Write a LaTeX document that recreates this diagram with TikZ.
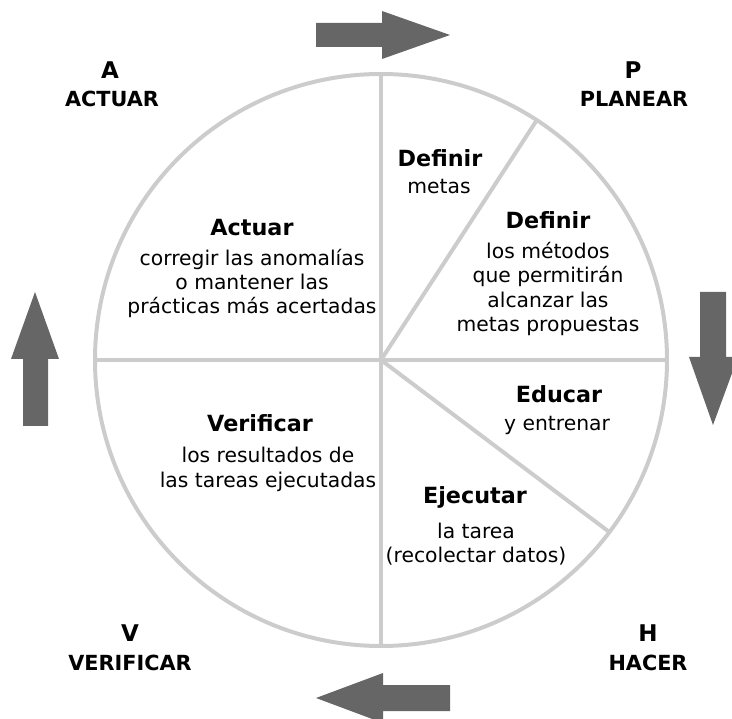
\documentclass[tikz,border=0pt]{standalone}
\usepackage{fontspec}
\setmainfont{DejaVu Sans}
\definecolor{ring}{HTML}{CCCCCC}
\definecolor{arrowgray}{HTML}{666666}
\tikzset{
  ringline/.style={draw=ring, line width=4pt},
  bigarrow/.style={fill=arrowgray, draw=none},
  title/.style={inner sep=0pt, font=\bfseries\fontsize{22.3}{26}\selectfont},
  body/.style={inner sep=0pt, align=center, font=\fontsize{20.3}{24.2}\selectfont},
  letter/.style={inner sep=0pt, font=\bfseries\fontsize{23}{27}\selectfont},
  phase/.style={inner sep=0pt, font=\bfseries\fontsize{20.8}{25}\selectfont}
}
\begin{document}
\begin{tikzpicture}[x=1pt,y=-1pt]
\path[use as bounding box] (0,0) rectangle (732,719);
% circle and dividers
\coordinate (C) at (381,360);
\coordinate (T) at (381,74);
\coordinate (B) at (381,646);
\coordinate (L) at (95,360);
\coordinate (R) at (667,360);
\coordinate (UR) at (536.8,120.1);
\coordinate (LR) at (609.4,532.1);
\draw[ringline] (C) circle[radius=286];
\draw[ringline] (T) -- (B);
\draw[ringline] (L) -- (R);
\draw[ringline] (C) -- (UR);
\draw[ringline] (C) -- (LR);
% arrows
\fill[bigarrow] (316,23) -- (382,23) -- (382,11) -- (450,35) -- (382,59) -- (382,47) -- (316,47) -- cycle;
\fill[bigarrow] (700,292) -- (726,292) -- (726,357) -- (738,357) -- (713,425) -- (689,357) -- (700,357) -- cycle;
\fill[bigarrow] (450,685) -- (383,685) -- (383,673) -- (316,698) -- (383,723) -- (383,711) -- (450,711) -- cycle;
\fill[bigarrow] (23,426) -- (23,359) -- (11,359) -- (35,292) -- (59,359) -- (48,359) -- (48,426) -- cycle;
% corner labels
\node[letter] (lA) at (110,70) {A};
\node[phase] (pA) at (112,99) {ACTUAR};
\node[letter] (lP) at (633,70) {P};
\node[phase] (pP) at (634,99) {PLANEAR};
\node[letter] (lV) at (130,633) {V};
\node[phase] (pV) at (130,663) {VERIFICAR};
\node[letter] (lH) at (648,633) {H};
\node[phase] (pH) at (648,663) {HACER};
% sector texts
\node[title] (t1) at (440,158) {Definir};
\node[body] (b1) at (439,187) {metas};
\node[title] (t2) at (548,220) {Definir};
\node[body] (b2) at (548,289) {los métodos\\que permitirán\\alcanzar las\\metas propuestas};
\node[title] (t3) at (252,228) {Actuar};
\node[body] (b3) at (252,283.5) {corregir las anomalías\\o mantener las\\prácticas más acertadas};
\node[title] (t4) at (559,394) {Educar};
\node[body] (b4) at (557,425) {y entrenar};
\node[title] (t5) at (260,423) {Verificar};
\node[body] (b5) at (268,469.5) {los resultados de\\las tareas ejecutadas};
\node[title] (t6) at (475,497) {Ejecutar};
\node[body] (b6) at (476,544) {la tarea\\(recolectar datos)};
\end{tikzpicture}
\end{document}
